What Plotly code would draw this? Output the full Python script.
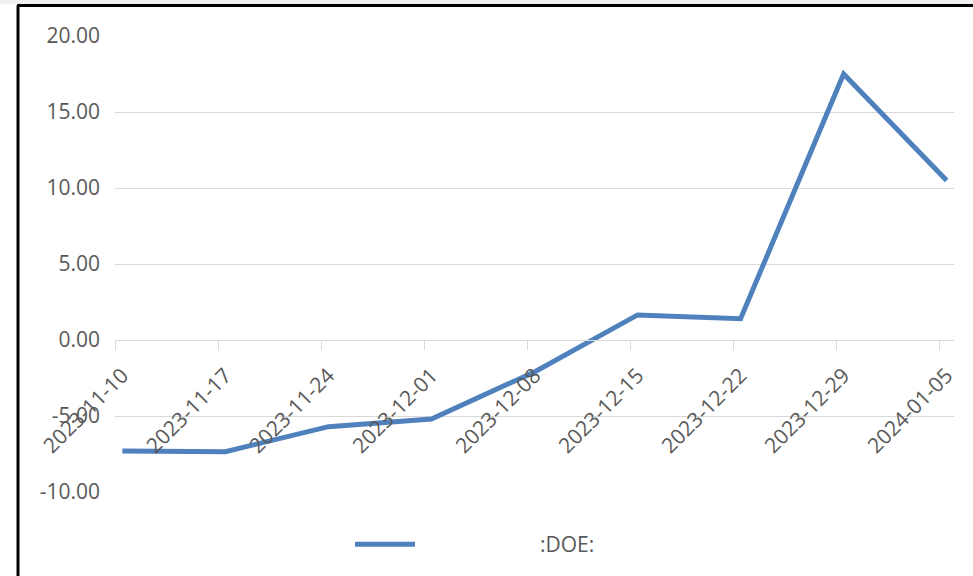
import plotly.graph_objects as go
import pandas as pd

dates = ["2023-11-10", "2023-11-17", "2023-11-24", "2023-12-01", "2023-12-08",
         "2023-12-15", "2023-12-22", "2023-12-29", "2024-01-05"]
values = [-7.30, -7.35, -5.70, -5.20, -2.10, 1.65, 1.40, 17.50, 10.50]
series_name = ":DOE:"
y_ticks = [20, 15, 10, 5, 0, -5, -10]
y_tick_labels = ["20.00", "15.00", "10.00", "5.00", "0.00", "-5.00", "-10.00"]

# Excel date axis: each point sits in the middle of its day
x_mid = [pd.Timestamp(d) + pd.Timedelta(hours=12) for d in dates]

W, H = 973, 576
L, R, T, B = 115, 19, 36, 84
pw, ph = W - L - R, H - T - B

def px_x(p):
    return (p - L) / pw

def px_y(p):
    return (H - B - p) / ph

font_family = "Open Sans, Liberation Sans, sans-serif"
txt_color = "#595959"
grid_color = "#d9d9d9"
fs = 21

fig = go.Figure()
fig.add_trace(go.Scatter(
    x=x_mid, y=values, mode="lines", name="\u00a0" * 22 + series_name,
    line=dict(color="#4f81bd", width=5),
))

fig.update_layout(
    width=W, height=H,
    margin=dict(l=L, r=R, t=T, b=B, autoexpand=False),
    paper_bgcolor="white", plot_bgcolor="white",
    font=dict(family=font_family, size=fs, color=txt_color),
    showlegend=True,
    legend=dict(orientation="h", x=px_x(350), y=px_y(524), xanchor="left", yanchor="top",
                bgcolor="rgba(0,0,0,0)", font=dict(size=fs, color=txt_color),
                itemwidth=60),
    xaxis=dict(
        type="date",
        range=["2023-11-10", "2024-01-06"],
        tickmode="array",
        tickvals=x_mid,
        ticktext=dates,
        tickangle=-45,
        ticks="",
        ticklabelstandoff=14,
        minor=dict(ticks="outside", ticklen=9, tickcolor=grid_color, tickwidth=1,
                   tick0="2023-11-10", dtick=7 * 86400000, showgrid=False),
        showgrid=False, zeroline=False,
        showline=True, linecolor=grid_color, linewidth=1,
        anchor="free", position=10 / 30,
        tickfont=dict(size=fs, color=txt_color),
    ),
    yaxis=dict(
        range=[-10, 20],
        tickmode="array", tickvals=y_ticks, ticktext=y_tick_labels,
        showgrid=True, gridcolor=grid_color, gridwidth=1,
        zeroline=False, showline=False, ticks="",
        ticklabelstandoff=14,
        tickfont=dict(size=fs, color=txt_color),
    ),
    shapes=[
        dict(type="rect", xref="paper", yref="paper",
             x0=px_x(-5), x1=px_x(980), y0=px_y(4), y1=px_y(-5),
             fillcolor="#f0f0f0", line=dict(width=0), layer="below"),
        dict(type="line", xref="paper", yref="paper",
             x0=px_x(17), x1=px_x(980), y0=px_y(5.5), y1=px_y(5.5),
             line=dict(color="black", width=3)),
        dict(type="line", xref="paper", yref="paper",
             x0=px_x(18), x1=px_x(18), y0=px_y(5.5), y1=px_y(590),
             line=dict(color="black", width=3)),
    ],
)

fig.write_html("out.html", config={"displayModeBar": False},
               post_script="document.body.style.margin='0';document.body.style.padding='0';")
